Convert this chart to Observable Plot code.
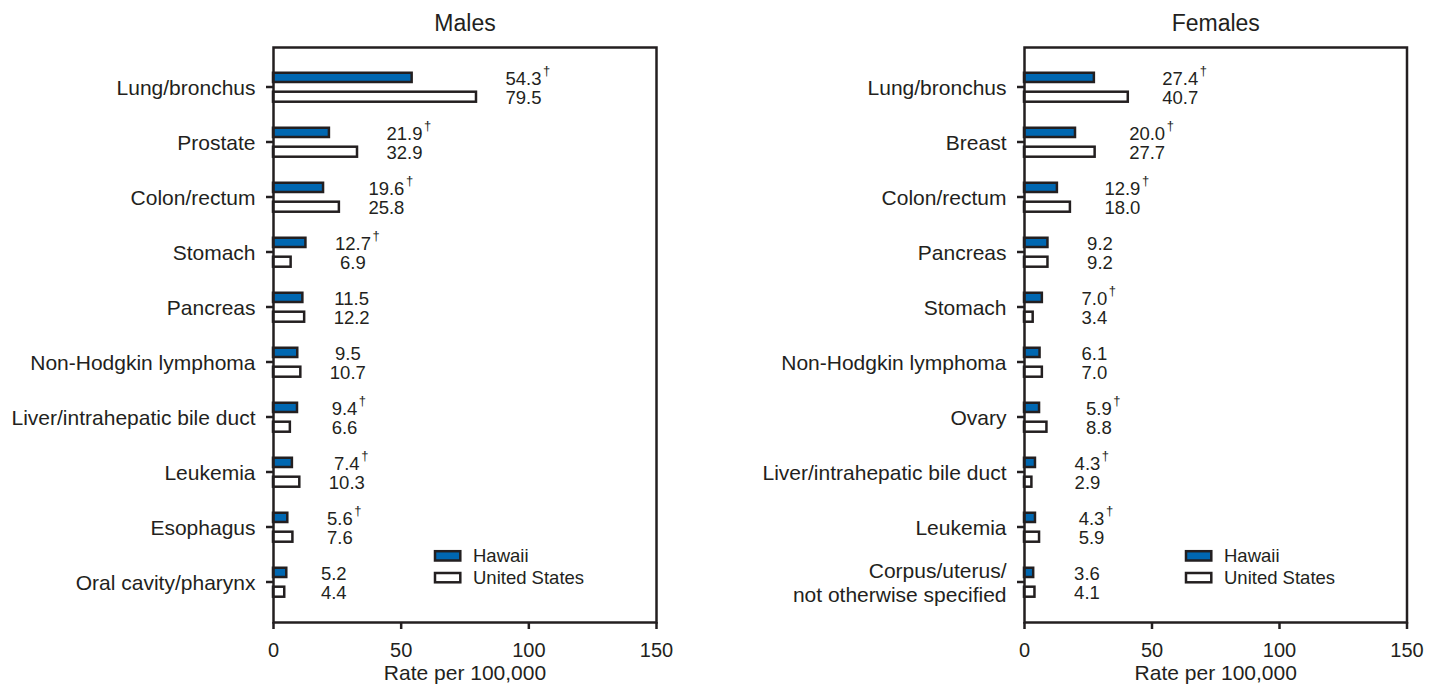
<!DOCTYPE html>
<html>
<head>
<meta charset="utf-8">
<script src="https://cdn.jsdelivr.net/npm/d3@7"></script>
<script src="https://cdn.jsdelivr.net/npm/@observablehq/plot@0.6"></script>
<style>
  body { margin: 0; background: #fff; }
  #wrap { position: relative; width: 1440px; height: 685px; overflow: hidden; background: #fff;
          font-family: "Liberation Sans", Arial, Helvetica, sans-serif; }
  .panel { position: absolute; top: 0; }
</style>
</head>
<body>
<div id="wrap">
  <div class="panel" id="males" style="left:0px"></div>
  <div class="panel" id="females" style="left:720px"></div>
</div>
<script>
// ---------- data ----------
const maleCategories = ["Lung/bronchus", "Prostate", "Colon/rectum", "Stomach", "Pancreas",
  "Non-Hodgkin lymphoma", "Liver/intrahepatic bile duct", "Leukemia", "Esophagus", "Oral cavity/pharynx"];
const maleHawaii = [54.3, 21.9, 19.6, 12.7, 11.5, 9.5, 9.4, 7.4, 5.6, 5.2];
const maleUS = [79.5, 32.9, 25.8, 6.9, 12.2, 10.7, 6.6, 10.3, 7.6, 4.4];
const maleSignificant = [true, true, true, true, false, false, true, true, true, false];

const femaleCategories = ["Lung/bronchus", "Breast", "Colon/rectum", "Pancreas", "Stomach",
  "Non-Hodgkin lymphoma", "Ovary", "Liver/intrahepatic bile duct", "Leukemia",
  "Corpus/uterus/\nnot otherwise specified"];
const femaleHawaii = [27.4, 20.0, 12.9, 9.2, 7.0, 6.1, 5.9, 4.3, 4.3, 3.6];
const femaleUS = [40.7, 27.7, 18.0, 9.2, 3.4, 7.0, 8.8, 2.9, 5.9, 4.1];
const femaleSignificant = [true, true, true, false, true, false, true, true, true, false];

const xTicks = [0, 50, 100, 150];
const seriesNames = ["Hawaii", "United States"];
const seriesColors = ["#0067b1", "#ffffff"];
const xLabel = "Rate per 100,000";
const dagger = "\u2020";

// ---------- drawing ----------
const ink = "#231f20";
const font = '"Liberation Sans", Arial, Helvetica, sans-serif';
const svgns = "http://www.w3.org/2000/svg";

function panel(elId, title, cats, hi, us, sig, opts) {
  const rows = cats.map((c, i) => ({cat: c, hi: hi[i], us: us[i], sig: sig[i], max: Math.max(hi[i], us[i])}));
  const fmt = v => v.toFixed(1);
  const plot = Plot.plot({
    width: 720, height: 685,
    marginLeft: opts.ml, marginRight: opts.mr, marginTop: 47, marginBottom: 63,
    style: {fontFamily: font, color: ink, background: "#fff", overflow: "visible", fontSize: "21px"},
    x: {domain: [0, 150]},
    y: {domain: cats, padding: 0, insetTop: 11.5, insetBottom: 13.5},
    marks: [
      Plot.barX(rows, {y: "cat", x: "hi", fill: seriesColors[0], stroke: ink, strokeWidth: 2.5,
        insetTop: 13.75, insetBottom: 32}),
      Plot.barX(rows, {y: "cat", x: "us", fill: seriesColors[1], stroke: ink, strokeWidth: 2.5,
        insetTop: 32.7, insetBottom: 12.3}),
      Plot.frame({stroke: ink, strokeWidth: 2.5}),
      Plot.axisY({tickSize: 7, tickPadding: 11, fontSize: 21, stroke: ink, strokeWidth: 2.5,
        fill: ink, label: null, lineHeight: 1.15}),
      Plot.axisX({ticks: xTicks, tickSize: 7, tickPadding: 13, fontSize: 20, stroke: ink,
        strokeWidth: 2.5, fill: ink, label: null}),
      Plot.text(rows, {y: "cat", x: "max", text: d => fmt(d.hi), dx: opts.dx, dy: -8,
        fontSize: 18.5, fill: ink, textAnchor: "middle", lineAnchor: "middle",
        ariaDescription: "hawaii-labels"}),
      Plot.text(rows, {y: "cat", x: "max", text: d => fmt(d.us), dx: opts.dx, dy: 11,
        fontSize: 18.5, fill: ink, textAnchor: "middle", lineAnchor: "middle"}),
      Plot.text([title], {frameAnchor: "top", dy: -24, fontSize: 23, fill: ink, lineAnchor: "middle"}),
      Plot.text([xLabel], {frameAnchor: "bottom", dy: 51, fontSize: 21, fill: ink, lineAnchor: "middle"})
    ]
  });
  document.getElementById(elId).appendChild(plot);

  // superscript daggers after significant Hawaii values
  const g = plot.querySelector('g[aria-description="hawaii-labels"]');
  if (g) {
    const texts = g.querySelectorAll("text");
    texts.forEach((t, i) => {
      if (!rows[i] || !rows[i].sig) return;
      const b = t.getBBox();
      const d = document.createElementNS(svgns, "text");
      d.textContent = dagger;
      d.setAttribute("x", b.x + b.width + 1.5);
      d.setAttribute("y", b.y + 7);
      d.setAttribute("font-size", 13);
      d.setAttribute("text-anchor", "start");
      d.setAttribute("fill", ink);
      const tr = t.getAttribute("transform");
      if (tr) d.setAttribute("transform", tr);
      g.appendChild(d);
    });
  }

  // legend inside the frame
  const svg = d3.select(plot);
  const lx = opts.ml + 162, ly = 551.2;
  const leg = svg.append("g").attr("font-family", font).attr("text-anchor", "start");
  seriesNames.forEach((n, i) => {
    leg.append("rect").attr("x", lx).attr("y", ly + i * 21.8).attr("width", 25.3).attr("height", 9.3)
      .attr("fill", seriesColors[i]).attr("stroke", ink).attr("stroke-width", 2.5);
    leg.append("text").attr("x", lx + 38).attr("y", ly + i * 21.8 + 4.8).attr("dy", "0.35em")
      .attr("text-anchor", "start").attr("font-size", 18.5).attr("fill", ink).text(n);
  });
}

panel("males", "Males", maleCategories, maleHawaii, maleUS, maleSignificant, {ml: 273, mr: 64, dx: 47});
panel("females", "Females", femaleCategories, femaleHawaii, femaleUS, femaleSignificant, {ml: 304, mr: 33.5, dx: 52});
</script>
</body>
</html>
